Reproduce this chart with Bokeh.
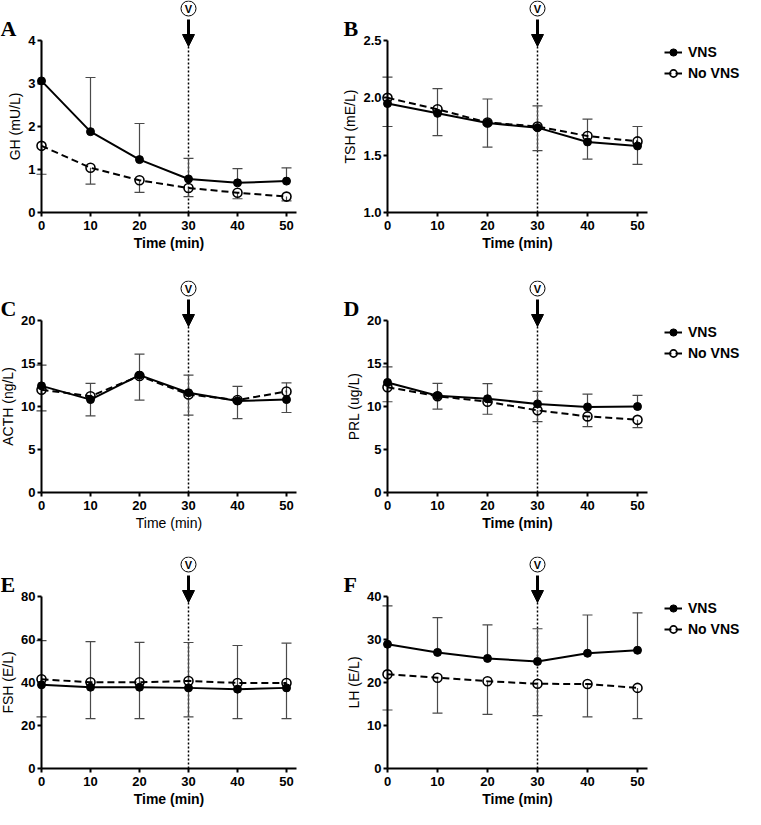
import numpy as np
from bokeh.plotting import figure
from bokeh.layouts import column, row
from bokeh.models import (Range1d, FixedTicker, Label, Arrow, NormalHead,
                          Legend, LegendItem)
from bokeh.embed import file_html
from bokeh.resources import INLINE
from bokeh.core.properties import value

# ---------------- data ----------------
time_min = [0, 10, 20, 30, 40, 50]
time_ticks = [0, 10, 20, 30, 40, 50]
stim_time = 30

gh_vns = [3.06, 1.88, 1.23, 0.78, 0.69, 0.73]
gh_vns_up = [4.0, 3.14, 2.07, 1.26, 1.02, 1.04]
gh_novns = [1.55, 1.04, 0.75, 0.57, 0.46, 0.37]
gh_novns_lo = [0.89, 0.66, 0.47, 0.37, 0.32, 0.27]
gh_ticks = [0, 1, 2, 3, 4]
gh_tick_labels = ["0", "1", "2", "3", "4"]

tsh_vns = [1.95, 1.865, 1.78, 1.74, 1.615, 1.58]
tsh_vns_up = [2.18, 2.08, 1.99, 1.93, 1.815, 1.75]
tsh_novns = [2.0, 1.90, 1.785, 1.75, 1.667, 1.62]
tsh_novns_lo = [1.75, 1.67, 1.57, 1.54, 1.466, 1.42]
tsh_ticks = [1.0, 1.5, 2.0, 2.5]
tsh_tick_labels = ["1.0", "1.5", "2.0", "2.5"]

acth_vns = [12.4, 10.8, 13.65, 11.6, 10.65, 10.8]
acth_vns_up = [14.8, 12.7, 16.1, 13.65, 12.35, 12.75]
acth_novns = [11.95, 11.2, 13.55, 11.4, 10.75, 11.75]
acth_novns_lo = [9.5, 8.9, 10.75, 9.0, 8.6, 9.3]
acth_ticks = [0, 5, 10, 15, 20]
acth_tick_labels = ["0", "5", "10", "15", "20"]

prl_vns = [12.8, 11.25, 10.9, 10.3, 9.95, 10.0]
prl_vns_up = [14.6, 12.7, 12.65, 11.75, 11.45, 11.3]
prl_novns = [12.25, 11.2, 10.55, 9.55, 8.85, 8.45]
prl_novns_lo = [10.55, 9.7, 9.1, 8.25, 7.65, 7.55]
prl_ticks = [0, 5, 10, 15, 20]
prl_tick_labels = ["0", "5", "10", "15", "20"]

fsh_vns = [38.9, 37.8, 37.8, 37.5, 36.9, 37.5]
fsh_vns_up = [59.5, 59.0, 58.7, 58.6, 57.2, 58.3]
fsh_novns = [41.5, 40.1, 40.1, 40.7, 39.8, 39.8]
fsh_novns_lo = [24.0, 23.2, 23.2, 24.0, 23.2, 23.2]
fsh_ticks = [0, 20, 40, 60, 80]
fsh_tick_labels = ["0", "20", "40", "60", "80"]

lh_vns = [28.9, 27.0, 25.6, 24.9, 26.8, 27.5]
lh_vns_up = [37.8, 35.1, 33.4, 32.5, 35.7, 36.2]
lh_novns = [21.9, 21.1, 20.3, 19.7, 19.65, 18.75]
lh_novns_lo = [13.6, 12.9, 12.6, 12.3, 12.0, 11.6]
lh_ticks = [0, 10, 20, 30, 40]
lh_tick_labels = ["0", "10", "20", "30", "40"]

series_labels = ["VNS", "No VNS"]

panels = [
    dict(letter="A", ylabel="GH (mU/L)", ticks=gh_ticks, tlabels=gh_tick_labels,
         vns=gh_vns, up=gh_vns_up, nov=gh_novns, lo=gh_novns_lo, xbold=True),
    dict(letter="B", ylabel="TSH (mE/L)", ticks=tsh_ticks, tlabels=tsh_tick_labels,
         vns=tsh_vns, up=tsh_vns_up, nov=tsh_novns, lo=tsh_novns_lo, xbold=True),
    dict(letter="C", ylabel="ACTH (ng/L)", ticks=acth_ticks, tlabels=acth_tick_labels,
         vns=acth_vns, up=acth_vns_up, nov=acth_novns, lo=acth_novns_lo, xbold=False),
    dict(letter="D", ylabel="PRL (ug/L)", ticks=prl_ticks, tlabels=prl_tick_labels,
         vns=prl_vns, up=prl_vns_up, nov=prl_novns, lo=prl_novns_lo, xbold=True),
    dict(letter="E", ylabel="FSH (E/L)", ticks=fsh_ticks, tlabels=fsh_tick_labels,
         vns=fsh_vns, up=fsh_vns_up, nov=fsh_novns, lo=fsh_novns_lo, xbold=True),
    dict(letter="F", ylabel="LH (E/L)", ticks=lh_ticks, tlabels=lh_tick_labels,
         vns=lh_vns, up=lh_vns_up, nov=lh_novns, lo=lh_novns_lo, xbold=True),
]

# ---------------- layout constants (pixels) ----------------
X_AXIS_END = 52.0
COL_W = [334, 411]
COL_ZERO_PX = [41, 53]        # where time 0 sits, px from figure left
COL_S = [4.9, 5.0]            # px per minute
LETTER_PX = [0, 9]            # panel letter left edge, px from figure left
LEG_PX = 330                  # legend glyph start, px from figure left (right column)
ROW_H = [280, 276, 253]
G = 40                        # px of frame above the axis top
H = 172                       # px of the y-axis span

SANS = "Liberation Sans"
SERIF = "Liberation Serif"
ERR_COLOR = "#4a4a4a"


def make_panel(cfg, col, r):
    ticks = cfg["ticks"]
    ymin, ymax = ticks[0], ticks[-1]
    k = (ymax - ymin) / H
    w = COL_W[col]
    s = COL_S[col]
    x0 = -COL_ZERO_PX[col] / s
    x1 = x0 + w / s
    h = ROW_H[r]
    bb = h - G - H            # px below the x axis (tick labels, axis title)

    p = figure(width=w, height=h, x_range=Range1d(x0, x1),
               y_range=Range1d(ymin - bb * k, ymax + G * k),
               output_backend="svg", toolbar_location=None,
               min_border_left=0, min_border_right=0,
               min_border_top=0, min_border_bottom=0)
    p.xgrid.visible = False
    p.ygrid.visible = False
    p.outline_line_color = None
    p.background_fill_color = "white"

    for ax in (p.xaxis[0], p.yaxis[0]):
        ax.axis_line_width = 2
        ax.axis_line_color = "black"
        ax.major_tick_line_width = 2
        ax.major_tick_line_color = "black"
        ax.major_tick_out = 4
        ax.major_tick_in = 0
        ax.minor_tick_line_color = None
        ax.major_label_text_font = SANS
        ax.major_label_text_font_style = "bold"
        ax.major_label_text_font_size = "13px"
        ax.major_label_text_color = "black"
        ax.axis_label_text_font = SANS
        ax.axis_label_text_font_size = "14px"
        ax.axis_label_text_color = "black"

    ya = p.yaxis[0]
    ya.fixed_location = 0
    ya.bounds = (ymin, ymax)
    ya.ticker = FixedTicker(ticks=ticks)
    ya.major_label_overrides = {t: l for t, l in zip(ticks, cfg["tlabels"])}
    ya.axis_label = cfg["ylabel"]
    ya.axis_label_text_font_style = "normal"
    ya.major_label_standoff = 2
    ya.axis_label_standoff = 2

    xa = p.xaxis[0]
    xa.fixed_location = ymin
    xa.bounds = (0, X_AXIS_END)
    xa.ticker = FixedTicker(ticks=time_ticks)
    xa.axis_label = "Time (min)"
    xa.axis_label_text_font_style = "bold" if cfg["xbold"] else "normal"
    xa.major_label_standoff = 4
    xa.axis_label_standoff = 2

    t = np.array(time_min, dtype=float)
    vns = np.array(cfg["vns"])
    up = np.array(cfg["up"])
    nov = np.array(cfg["nov"])
    lo = np.array(cfg["lo"])
    up_c = np.minimum(up, ymax)
    cap_mask = up < ymax - 1e-9

    # stimulus: dotted line
    p.segment(x0=[stim_time], y0=[ymin], x1=[stim_time], y1=[ymax],
              line_color="black", line_width=1.5, line_dash="2 2")

    # error bars (VNS upward, No VNS downward)
    p.segment(x0=t, y0=vns, x1=t, y1=up_c, line_color=ERR_COLOR, line_width=1.2)
    p.scatter(t[cap_mask], up[cap_mask], marker="dash", size=10,
              line_color=ERR_COLOR, line_width=1.2)
    p.segment(x0=t, y0=nov, x1=t, y1=lo, line_color=ERR_COLOR, line_width=1.2)
    p.scatter(t, lo, marker="dash", size=10, line_color=ERR_COLOR, line_width=1.2)

    l_no = p.line(t, nov, line_color="black", line_width=2, line_dash="7 4")
    l_v = p.line(t, vns, line_color="black", line_width=2)
    s_no = p.scatter(t, nov, marker="circle", size=9, fill_alpha=0,
                     line_color="black", line_width=1.6)
    s_v = p.scatter(t, vns, marker="circle", size=8, fill_color="black",
                    line_color="black")

    # stimulus: arrow and circled V
    arrow = Arrow(end=NormalHead(size=12, fill_color="black", line_color="black"),
                  x_start=stim_time, y_start=ymax + 21 * k,
                  x_end=stim_time, y_end=ymax - 6 * k,
                  line_color="black", line_width=3)
    p.add_layout(arrow)
    p.scatter([stim_time], [ymax + 32 * k], marker="circle", size=15,
              fill_color="white", line_color="black", line_width=1)
    p.text([stim_time], [ymax + 32 * k], text=["V"], text_align="center",
           text_baseline="middle", text_font=value(SANS),
           text_font_style="bold", text_font_size="11px", text_color="black")

    lab = Label(x=x0 + LETTER_PX[col] / s, y=ymax + 12 * k,
                text=cfg["letter"], text_font=SERIF, text_font_style="bold",
                text_font_size="22px", text_color="black",
                text_baseline="alphabetic", text_align="left")
    p.add_layout(lab)

    if col == 1:
        leg = Legend(items=[LegendItem(label=series_labels[0], renderers=[l_v, s_v]),
                            LegendItem(label=series_labels[1], renderers=[l_no, s_no])],
                     location=(LEG_PX, h - (G + 1.5) - 41),
                     padding=0, margin=0, spacing=1,
                     glyph_width=18, glyph_height=20, label_height=20,
                     label_standoff=6,
                     label_text_font=SANS, label_text_font_style="bold",
                     label_text_font_size="14px", label_text_color="black",
                     border_line_color=None, background_fill_alpha=0)
        p.add_layout(leg)
    return p


figs = [make_panel(cfg, i % 2, i // 2) for i, cfg in enumerate(panels)]
layout = column(row(figs[0], figs[1]), row(figs[2], figs[3]), row(figs[4], figs[5]))

open("out.html", "w").write(file_html(layout, INLINE))
